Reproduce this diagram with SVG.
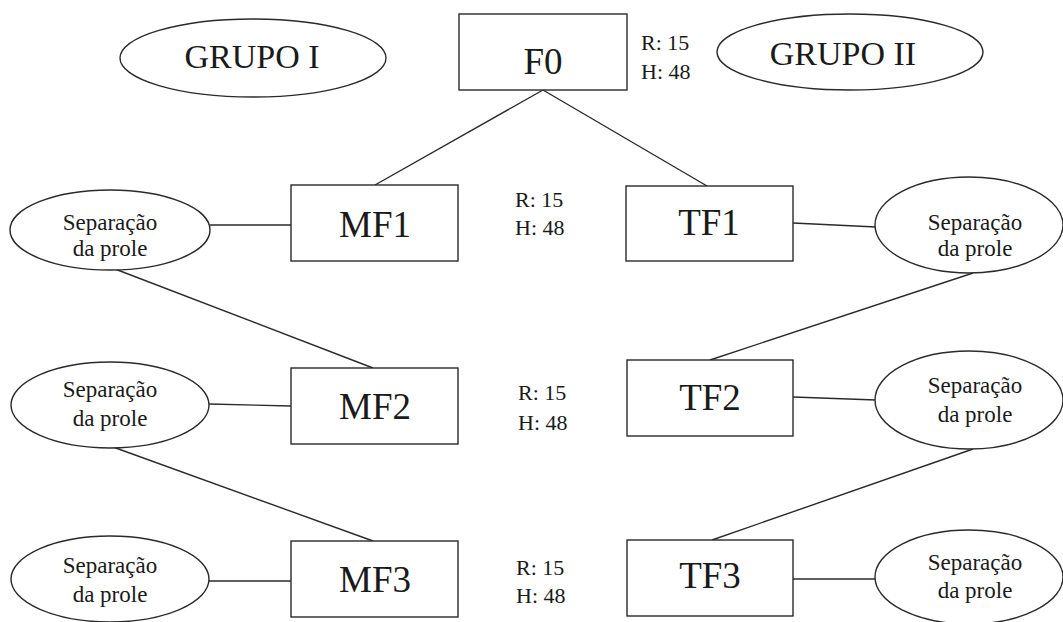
<svg xmlns="http://www.w3.org/2000/svg" width="1063" height="622" viewBox="0 0 1063 622">
<style>
.shape{fill:#ffffff;stroke:#2a2a2a;stroke-width:1.4}
.conn line{stroke:#2a2a2a;stroke-width:1.4}
text{font-family:"Liberation Serif","Times New Roman",serif;fill:#1a1a1a;text-anchor:middle}
.big{font-size:37px}
.grp{font-size:34px}
.small{font-size:23px}
.lab{font-size:22px;text-anchor:start}
</style>
<rect width="1063" height="622" fill="#ffffff"/>
<g id="connectors" class="conn">
<line x1="543" y1="90" x2="375" y2="185"/>
<line x1="543" y1="90" x2="707" y2="186"/>
<line x1="115" y1="269" x2="373" y2="368"/>
<line x1="113" y1="447" x2="373" y2="541"/>
<line x1="973" y1="273" x2="710" y2="360"/>
<line x1="973" y1="449" x2="712" y2="540"/>
<line x1="210" y1="225" x2="291" y2="225"/>
<line x1="209" y1="404" x2="291" y2="406"/>
<line x1="209" y1="581" x2="291" y2="581"/>
<line x1="793" y1="223" x2="876" y2="227"/>
<line x1="793" y1="397" x2="876" y2="400"/>
<line x1="793" y1="579" x2="876" y2="579"/>
</g>
<g id="grupo1"><ellipse class="shape" cx="253" cy="58" rx="133" ry="39"/><text class="grp" x="252" y="68">GRUPO I</text></g>
<g id="grupo2"><ellipse class="shape" cx="850" cy="52" rx="133" ry="38"/><text class="grp" x="843" y="65">GRUPO II</text></g>
<g id="F0"><rect class="shape" x="459" y="14" width="168" height="76"/><text class="big" x="543" y="74">F0</text></g>
<g id="labelF0"><text class="lab" x="641" y="50">R: 15</text><text class="lab" x="641" y="79">H: 48</text></g>
<g id="MF1"><rect class="shape" x="291" y="185" width="167" height="76"/><text class="big" x="375" y="237">MF1</text></g>
<g id="MF2"><rect class="shape" x="291" y="368" width="167" height="76"/><text class="big" x="375" y="419">MF2</text></g>
<g id="MF3"><rect class="shape" x="291" y="541" width="167" height="76"/><text class="big" x="375" y="592">MF3</text></g>
<g id="TF1"><rect class="shape" x="626" y="186" width="167" height="75"/><text class="big" x="709" y="235">TF1</text></g>
<g id="TF2"><rect class="shape" x="627" y="360" width="166" height="76"/><text class="big" x="710" y="410">TF2</text></g>
<g id="TF3"><rect class="shape" x="627" y="540" width="166" height="76"/><text class="big" x="710" y="588">TF3</text></g>
<g id="label1"><text class="lab" x="515" y="207">R: 15</text><text class="lab" x="515" y="235">H: 48</text></g>
<g id="label2"><text class="lab" x="518" y="400">R: 15</text><text class="lab" x="518" y="430">H: 48</text></g>
<g id="label3"><text class="lab" x="516" y="575">R: 15</text><text class="lab" x="516" y="603">H: 48</text></g>
<g id="sepL1"><ellipse class="shape" cx="110" cy="230" rx="100" ry="40"/><text class="small" x="110" y="230">Separação</text><text class="small" x="110" y="256">da prole</text></g>
<g id="sepL2"><ellipse class="shape" cx="110" cy="405" rx="99" ry="43"/><text class="small" x="110" y="397">Separação</text><text class="small" x="110" y="426">da prole</text></g>
<g id="sepL3"><ellipse class="shape" cx="110" cy="579" rx="99" ry="43"/><text class="small" x="110" y="573">Separação</text><text class="small" x="110" y="602">da prole</text></g>
<g id="sepR1"><ellipse class="shape" cx="969" cy="225" rx="94" ry="48"/><text class="small" x="975" y="230">Separação</text><text class="small" x="975" y="256">da prole</text></g>
<g id="sepR2"><ellipse class="shape" cx="969" cy="400" rx="94" ry="49"/><text class="small" x="975" y="393">Separação</text><text class="small" x="975" y="422">da prole</text></g>
<g id="sepR3"><ellipse class="shape" cx="969" cy="577" rx="94" ry="47"/><text class="small" x="975" y="570">Separação</text><text class="small" x="975" y="598">da prole</text></g>
</svg>
